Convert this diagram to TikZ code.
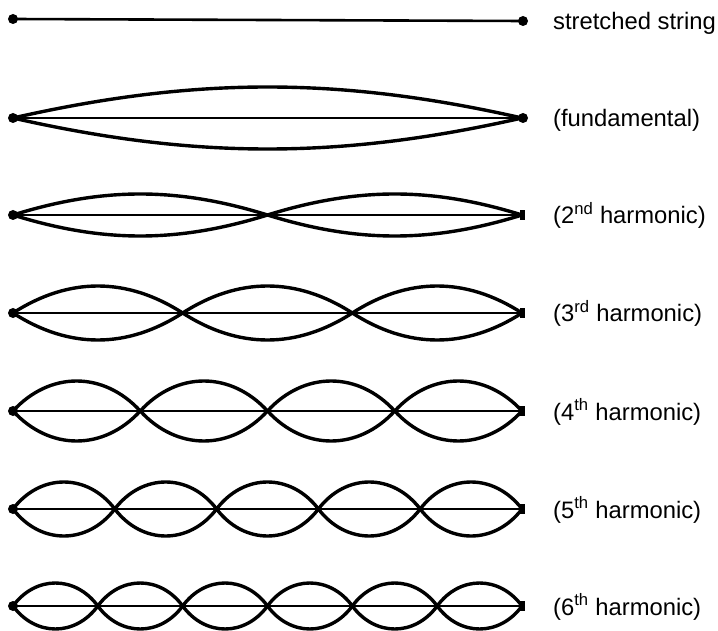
\documentclass[tikz,border=0pt]{standalone}
\usepackage{fontspec}
\setmainfont{Liberation Sans}
\begin{document}
\begin{tikzpicture}[x=1pt,y=-1pt,
  lobe/.style={line width=3.4pt},
  axisline/.style={line width=2pt},
  lbl/.style={anchor=base west, inner sep=0pt, font=\fontsize{23.8}{28}\selectfont}]
\useasboundingbox (0,0) rectangle (718,631);
% stretched string
\draw[line width=2.6pt] (13,19) -- (523,21);
\fill (13,19) circle (5);
\fill (523,21) circle (5);
\node[lbl] (l0) at (553,30) {stretched string};
% harmonics
\foreach \y/\n/\A/\txt/\sq in {
   118/1/31/{(fundamental)}/0,
   215/2/21/{(2\textsuperscript{nd} harmonic)}/1,
   313/3/27/{(3\textsuperscript{rd} harmonic)}/1,
   411/4/30/{(4\textsuperscript{th} harmonic)}/1,
   509/5/27/{(5\textsuperscript{th} harmonic)}/1,
   606/6/23/{(6\textsuperscript{th} harmonic)}/1}{
  \pgfmathsetmacro\L{509/\n}
  \pgfmathsetmacro\c{\L/2}
  \pgfmathsetmacro\d{(2/3)*(\c-\A*\A/\c)+0.06*\c}
  \pgfmathsetmacro\h{4*\A/3}
  \draw[axisline] (13,\y) -- (523,\y);
  \foreach \i in {1,...,\n}{
    \pgfmathsetmacro\xa{13+(\i-1)*\L}
    \pgfmathsetmacro\xb{\xa+\L}
    \draw[lobe] (\xa,\y) .. controls +(\d,-\h) and +(-\d,-\h) .. (\xb,\y);
    \draw[lobe] (\xa,\y) .. controls +(\d,\h) and +(-\d,\h) .. (\xb,\y);
  }
  \fill (13,\y) circle (5);
  \ifnum\sq=0
    \fill (523,\y) circle (5);
  \else
    \fill (519.5,\y-5) rectangle (524.5,\y+5);
  \fi
  \node[lbl] at (553,\y+9) {\txt};
}
\end{tikzpicture}
\end{document}
